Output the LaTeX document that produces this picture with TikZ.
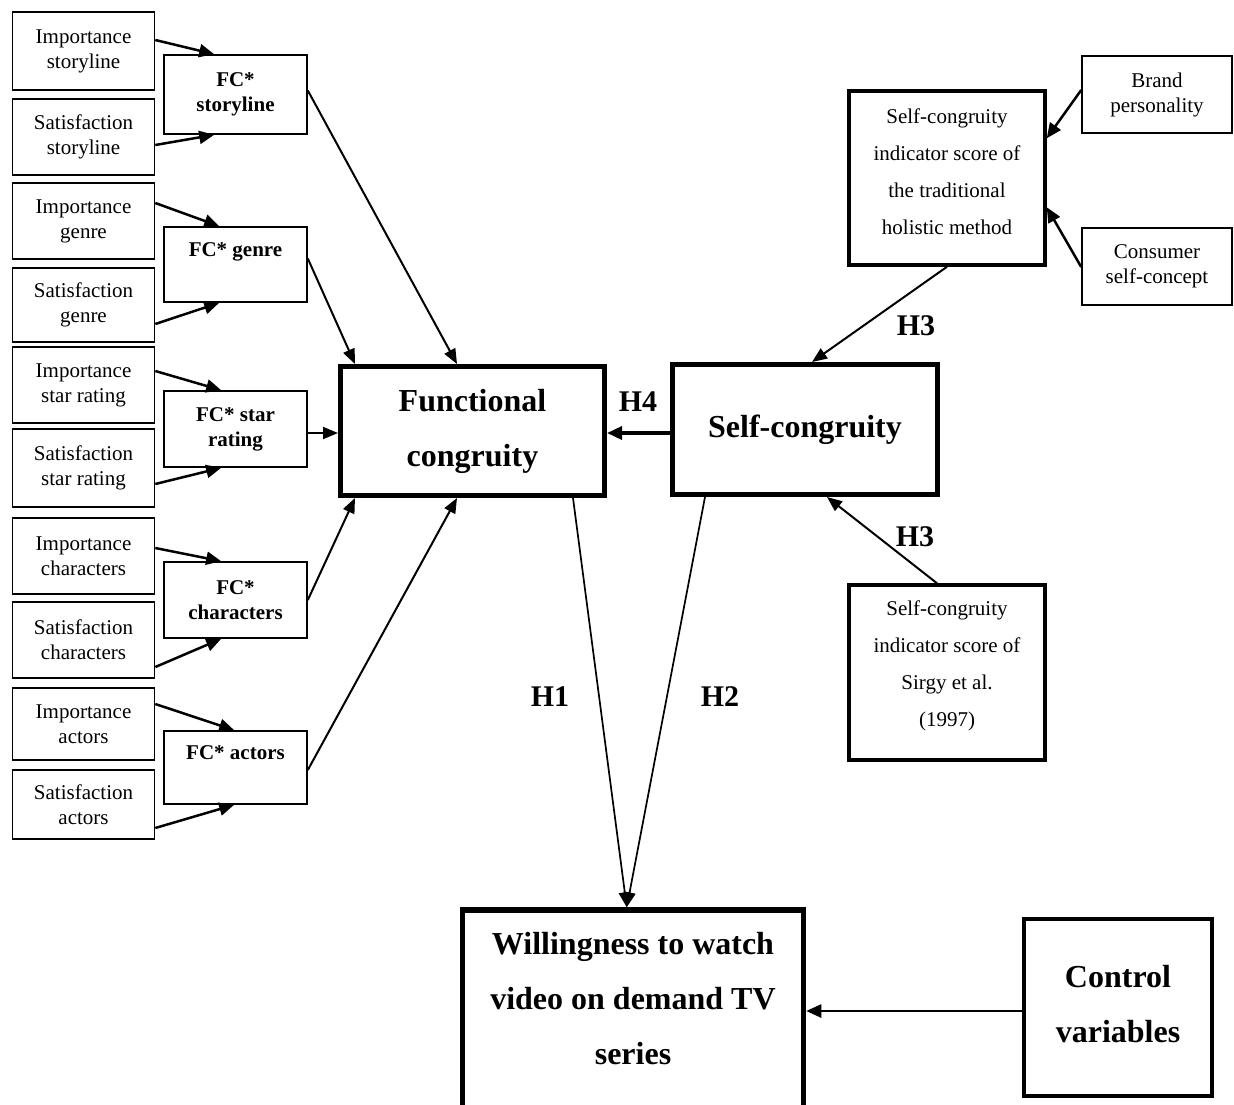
\documentclass[tikz,border=0pt]{standalone}
\usepackage{fontspec}
\setmainfont{Liberation Serif}
\usetikzlibrary{arrows.meta,calc}
\begin{document}
\begin{tikzpicture}[x=1pt,y=-1pt,
  sbox/.style={draw, line width=1.6pt, align=center, inner sep=0pt, minimum width=142pt, font=\fontsize{21}{25}\selectfont},
  fcbox/.style={sbox, minimum width=143pt, font=\bfseries\fontsize{21}{25}\selectfont},
  bigbox/.style={draw, line width=5pt, align=center, inner sep=0pt, font=\bfseries\fontsize{32}{55}\selectfont},
  midbox/.style={draw, line width=3.5pt, align=center, inner sep=0pt, font=\fontsize{21}{37}\selectfont},
  hlab/.style={inner sep=0pt, font=\bfseries\fontsize{30}{36}\selectfont},
  arr/.style={-{Triangle[length=15pt,width=13pt]}, line width=2.5pt},
  arrthin/.style={-{Triangle[length=15pt,width=12pt]}, line width=2pt},
]
\useasboundingbox (0,0) rectangle (1234,1104);
% left column
\node[sbox, minimum height=78pt] (is) at (83.5,51) {Importance\\storyline};
\node[sbox, minimum height=76pt] (ss) at (83.5,137) {Satisfaction\\storyline};
\node[fcbox, minimum height=79pt] (fcs) at (235.5,94.5) {FC*\\storyline};
\node[sbox, minimum height=76pt] (ig) at (83.5,221) {Importance\\genre};
\node[sbox, minimum height=74pt] (sg) at (83.5,305) {Satisfaction\\genre};
\node[fcbox, minimum height=75pt] (fcg) at (235.5,264.5) {FC* genre\\\phantom{g}};
\node[sbox, minimum height=76pt] (ir) at (83.5,385) {Importance\\star rating};
\node[sbox, minimum height=78pt] (sr) at (83.5,468) {Satisfaction\\star rating};
\node[fcbox, minimum height=76pt] (fcr) at (235.5,429) {FC* star\\rating};
\node[sbox, minimum height=76pt] (ic) at (83.5,556) {Importance\\characters};
\node[sbox, minimum height=76pt] (sc) at (83.5,640) {Satisfaction\\characters};
\node[fcbox, minimum height=76pt] (fcc) at (235.5,600) {FC*\\characters};
\node[sbox, minimum height=72pt] (ia) at (83.5,724) {Importance\\actors};
\node[sbox, minimum height=69pt] (sa) at (83.5,804.5) {Satisfaction\\actors};
\node[fcbox, minimum height=73pt] (fca) at (235.5,767.5) {FC* actors\\\phantom{g}};
% main boxes
\node[bigbox, minimum width=264pt, minimum height=129pt] (fun) at (472.5,431) {Functional\\congruity};
\node[bigbox, minimum width=265pt, minimum height=130pt] (self) at (805,429.5) {Self-congruity};
\node[midbox, minimum width=196pt, minimum height=174pt] (hol) at (947,178) {Self-congruity\\indicator score of\\the traditional\\holistic method\\[-25pt]\phantom{x}};
\node[midbox, minimum width=196pt, minimum height=175pt] (sir) at (947,672.5) {Self-congruity\\indicator score of\\Sirgy et al.\\(1997)\\[-20pt]\phantom{x}};
\node[sbox, minimum width=150pt, minimum height=77pt] (bp) at (1157,94.5) {Brand\\personality};
\node[sbox, minimum width=150pt, minimum height=77pt] (cs) at (1157,266.5) {Consumer\\self-concept};
\node[bigbox, line width=5.5pt, minimum width=341pt, minimum height=232pt] (will) at (633,1026) {Willingness to watch\\video on demand TV\\series\\\phantom{x}};
\node[bigbox, line width=4pt, minimum width=188pt, minimum height=177pt] (ctrl) at (1118,1007.5) {Control\\variables\\[-47pt]\phantom{x}};
% arrows into FC* boxes
\draw[arr] ([yshift=11pt]is.east) -- ([xshift=51pt]fcs.north west);
\draw[arr] ([yshift=-8pt]ss.east) -- ([xshift=51pt]fcs.south west);
\draw[arr] ([yshift=18pt]ig.east) -- ([xshift=56pt]fcg.north west);
\draw[arr] ([yshift=-19pt]sg.east) -- ([xshift=56pt]fcg.south west);
\draw[arr] ([yshift=14pt]ir.east) -- ([xshift=58pt]fcr.north west);
\draw[arr] ([yshift=-16pt]sr.east) -- ([xshift=58pt]fcr.south west);
\draw[arr] ([yshift=8pt]ic.east) -- ([xshift=58pt]fcc.north west);
\draw[arr] ([yshift=-27pt]sc.east) -- ([xshift=58pt]fcc.south west);
\draw[arr] ([yshift=20pt]ia.east) -- ([xshift=71pt]fca.north west);
\draw[arr] ([yshift=-23.5pt]sa.east) -- ([xshift=71pt]fca.south west);
% FC* to functional congruity
\draw[arrthin] ([yshift=4pt]fcs.east) -- ([xshift=119pt]fun.north west);
\draw[arrthin] ([yshift=6pt]fcg.east) -- ([xshift=17pt]fun.north west);
\draw[arrthin] ([yshift=-4pt]fcr.east) -- ([yshift=-2pt]fun.west);
\draw[arrthin] (fcc.east) -- ([xshift=17pt]fun.south west);
\draw[arrthin] ([yshift=-2.5pt]fca.east) -- ([xshift=119pt]fun.south west);
% self-congruity relations
\draw[arr, line width=3.5pt] ([yshift=-3.5pt]self.west) -- ([yshift=-2pt]fun.east);
\draw[arrthin] (hol.south) -- ([xshift=142pt]self.north west);
\draw[arrthin] ([xshift=-10pt]sir.north) -- ([xshift=157pt]self.south west);
\draw[arr] ([yshift=4.5pt]bp.west) -- ([yshift=-49pt]hol.north east);
\draw[arr] ([yshift=-0.5pt]cs.west) -- ([yshift=-118pt]hol.north east);
% to willingness
\draw[arrthin, line width=1.7pt] ([xshift=235pt]fun.south west) -- ([xshift=167pt]will.north west);
\draw[arrthin, line width=1.7pt] ([xshift=35pt]self.south west) -- ([xshift=167pt]will.north west);
\draw[arr] ([yshift=-3.5pt]ctrl.west) -- ([yshift=15pt]will.east);
% labels
\node[hlab] (h4) at (638,402) {H4};
\node[hlab] (h3a) at (916,326) {H3};
\node[hlab] (h3b) at (915,537) {H3};
\node[hlab] (h1) at (550,697) {H1};
\node[hlab] (h2) at (720,697) {H2};
\end{tikzpicture}
\end{document}
